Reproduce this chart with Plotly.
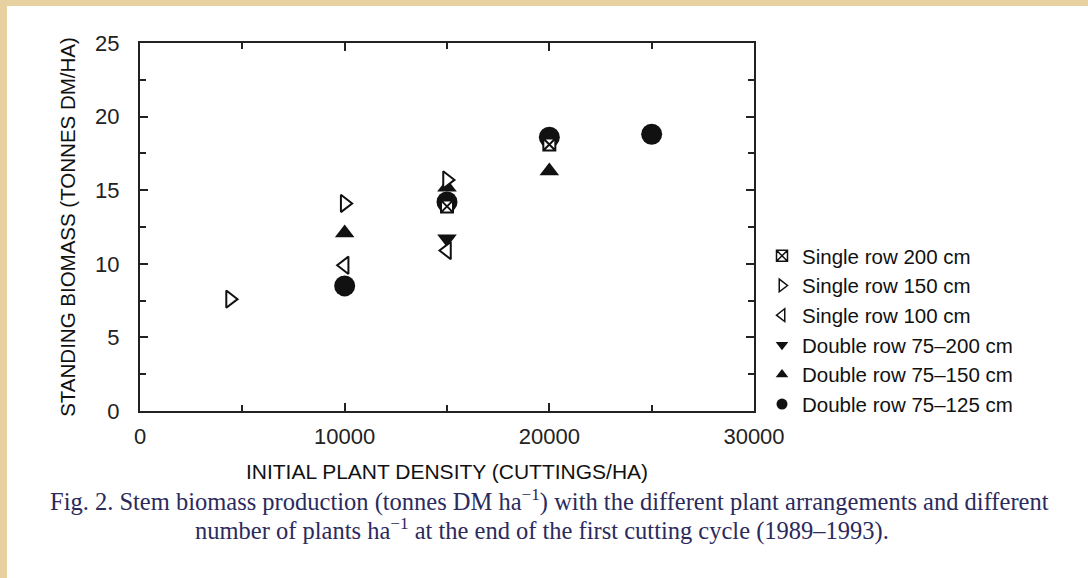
import plotly.graph_objects as go

# ---- data ----
series_names = ["Single row 200 cm", "Single row 150 cm", "Single row 100 cm",
                "Double row 75\u2013200 cm", "Double row 75\u2013150 cm", "Double row 75\u2013125 cm"]
single200_x = [15000, 20000]
single200_y = [13.9, 18.1]
single150_x = [4400, 10000, 15000]
single150_y = [7.6, 14.1, 15.7]
single100_x = [10000, 15000]
single100_y = [9.9, 10.9]
double200_x = [15000]
double200_y = [11.7]
double150_x = [10000, 15000, 20000]
double150_y = [12.1, 15.2, 16.3]
double125_x = [10000, 15000, 20000, 25000]
double125_y = [8.5, 14.2, 18.6, 18.8]

x_ticks = [0, 10000, 20000, 30000]
y_ticks = [0, 5, 10, 15, 20, 25]

BLACK = "#111111"
fig = go.Figure()

# drawing order (bottom to top)
draw = [
    (double125_x, double125_y, "circle", 21, BLACK, 0),
    (double150_x, double150_y, "triangle-up", 17, BLACK, 0),
    (double200_x, double200_y, "triangle-down", 17, BLACK, 0),
    (single100_x, single100_y, "triangle-left", 15, "white", 2),
    (single150_x, single150_y, "triangle-right", 15, "white", 2),
    (single200_x, single200_y, "square-x", 12, "white", 2),
]
for xs, ys, sym, size, col, lw in draw:
    fig.add_trace(go.Scatter(
        x=xs, y=ys, mode="markers", showlegend=False, hoverinfo="x+y",
        marker=dict(symbol=sym, size=size, color=col, line=dict(color=BLACK, width=lw)),
    ))

# legend entries (in reference order)
leg = [
    ("square-x", "white", 1.5),
    ("triangle-right", "white", 1.5),
    ("triangle-left", "white", 1.5),
    ("triangle-down", BLACK, 0),
    ("triangle-up", BLACK, 0),
    ("circle", BLACK, 0),
]
for name, (sym, col, lw) in zip(series_names, leg):
    fig.add_trace(go.Scatter(
        x=[None], y=[None], mode="markers", name=name,
        marker=dict(symbol=sym, size=11, color=col, line=dict(color=BLACK, width=lw)),
    ))

L, R, T, B = 140, 754, 43, 411
W, H = 1088, 578

def px2x(px):
    return (px - L) / (R - L)

def py2y(py):
    return (B - py) / (B - T)

SANS = "Liberation Sans, Arial, sans-serif"
axis_common = dict(
    showgrid=False, zeroline=False, showline=True, linecolor="#222222", linewidth=2,
    mirror="ticks", ticks="inside", ticklen=8, tickwidth=1.5, tickcolor="#222222",
    tickfont=dict(family=SANS, size=22, color="#222222"),
)

fig.update_xaxes(
    range=[0, 30000], tickvals=x_ticks, ticktext=[str(v) for v in x_ticks],
    minor=dict(tickvals=[5000, 15000, 25000], ticks="inside", ticklen=6, tickwidth=1.5, tickcolor="#222222"),
    title=dict(text="INITIAL PLANT DENSITY (CUTTINGS/HA)", standoff=16,
               font=dict(family=SANS, size=21, color="#111111")),
    ticklabelstandoff=5,
    **axis_common,
)
fig.update_yaxes(
    range=[0, 25], tickvals=y_ticks,
    minor=dict(tickvals=[2.5, 7.5, 12.5, 17.5, 22.5], ticks="inside", ticklen=6, tickwidth=1.5, tickcolor="#222222"),
    title=dict(text="STANDING BIOMASS (TONNES DM/HA)", standoff=14,
               font=dict(family=SANS, size=20.5, color="#111111")),
    ticklabelstandoff=14,
    **axis_common,
)

# white page over parchment background
fig.add_shape(type="rect", xref="paper", yref="paper",
              x0=px2x(7), x1=px2x(W + 5), y0=py2y(H + 5), y1=py2y(6),
              fillcolor="white", line=dict(width=0), layer="below")

cap_font = dict(family="Liberation Serif, Times New Roman, serif", size=24.5, color="#2b2a5c")
fig.add_annotation(
    text="Fig. 2. Stem biomass production (tonnes DM ha<sup>\u22121</sup>) with the different plant arrangements and different",
    xref="paper", yref="paper", x=px2x(549), y=py2y(500), xanchor="center", yanchor="middle",
    showarrow=False, font=cap_font)
fig.add_annotation(
    text="number of plants ha<sup>\u22121</sup> at the end of the first cutting cycle (1989\u20131993).",
    xref="paper", yref="paper", x=px2x(542), y=py2y(529), xanchor="center", yanchor="middle",
    showarrow=False, font=cap_font)

fig.update_layout(
    width=W, height=H,
    margin=dict(l=L, r=W - R, t=T, b=H - B),
    paper_bgcolor="#e8d1a0", plot_bgcolor="white",
    font=dict(family=SANS, color="#111111"),
    legend=dict(x=px2x(762), y=py2y(236), xanchor="left", yanchor="top",
                bgcolor="rgba(0,0,0,0)", font=dict(size=20.5, color="#111111"),
                tracegroupgap=0, itemwidth=30),
)

fig.write_html("out.html")
